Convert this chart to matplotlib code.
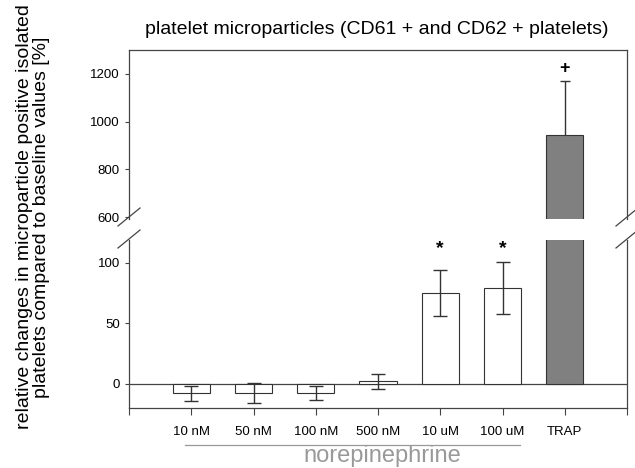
import numpy as np
import matplotlib.pyplot as plt

plt.rcParams['font.family'] = ['Liberation Sans', 'DejaVu Sans']

labels = ['10 nM', '50 nM', '100 nM', '500 nM', '10 uM', '100 uM', 'TRAP']
values = [-8, -7.5, -7.5, 2, 75.5, 79.5, 943]
errors = [6.5, 8.5, 5.7, 6, 19, 21.5, 228]
colors = ['white'] * 6 + ['#808080']
marks = ['', '', '', '', '*', '*', '+']

x = np.arange(1, len(labels) + 1)

fig = plt.figure(figsize=(6.35, 4.68), dpi=100)
left, right = 129 / 635, 627 / 635
ax_top = fig.add_axes([left, 1 - 219 / 468, right - left, (219 - 50) / 468])
ax_bot = fig.add_axes([left, 1 - 408 / 468, right - left, (408 - 240) / 468])

edge = '#333333'
for ax in (ax_top, ax_bot):
    ax.bar(x, values, width=0.6, color=colors, edgecolor=edge, linewidth=0.8, zorder=2)
    # norepinephrine groups: symmetric error bars
    ax.errorbar(x[:6], values[:6], yerr=errors[:6], fmt='none', ecolor=edge,
                elinewidth=1.0, capsize=5, capthick=1.0, zorder=3)
    # TRAP: only the upper half is visible
    ax.vlines(x[6], values[6], values[6] + errors[6], color=edge, linewidth=1.0, zorder=3)
    ax.hlines(values[6] + errors[6], x[6] - 0.08, x[6] + 0.08, color=edge,
              linewidth=1.0, zorder=3)
    ax.set_xlim(0, 8)
    for s in ax.spines.values():
        s.set_color('#444444')
        s.set_linewidth(0.9)
    ax.tick_params(axis='y', direction='out', length=3, labelsize=9.5, color='#444444')

ax_top.set_ylim(592, 1300)
ax_top.set_yticks([600, 800, 1000, 1200])
ax_top.spines['bottom'].set_visible(False)
ax_top.set_xticks([])

ax_bot.set_ylim(-20, 119)
ax_bot.set_yticks([0, 50, 100])
ax_bot.spines['top'].set_visible(False)
ax_bot.axhline(0, color='#444444', linewidth=0.9, zorder=1)
ax_bot.set_xticks(range(0, 9))
ax_bot.set_xticklabels([''] + labels + [''])
ax_bot.tick_params(axis='x', direction='out', length=5, labelsize=9.5, pad=8, color='#444444')

# significance marks
for xi, m in zip(x, marks):
    if m == '*':
        ax_bot.text(xi, 112, m, ha='center', va='center', fontsize=14, fontweight='bold')
    elif m == '+':
        ax_top.text(xi, 1222, m, ha='center', va='center', fontsize=13, fontweight='bold')

# break marks
kw = dict(color='#444444', linewidth=0.9, clip_on=False)
for xf in (left, right):
    for yp in (1 - 217 / 468, 1 - 239 / 468):
        fig.add_artist(plt.Line2D([xf - 11 / 635, xf + 11 / 635],
                                  [yp - 9 / 468, yp + 9 / 468], **kw))

fig.text(377 / 635, 1 - 30 / 468, 'platelet microparticles (CD61 + and CD62 + platelets)',
         ha='center', va='center', fontsize=14)
fig.text(33 / 635, 1 - 217 / 468, 'relative changes in microparticle positive isolated\n'
         'platelets compared to baseline values [%]',
         rotation=90, ha='center', va='center', fontsize=14, linespacing=1.05)

# norepinephrine group line
fig.add_artist(plt.Line2D([185 / 635, 520 / 635], [1 - 445 / 468] * 2,
                          color='#999999', linewidth=0.9))
fig.text(382 / 635, 1 - 462 / 468, 'norepinephrine', ha='center', va='baseline',
         fontsize=17, color='#999999')

fig.savefig('out.png', dpi=100)
